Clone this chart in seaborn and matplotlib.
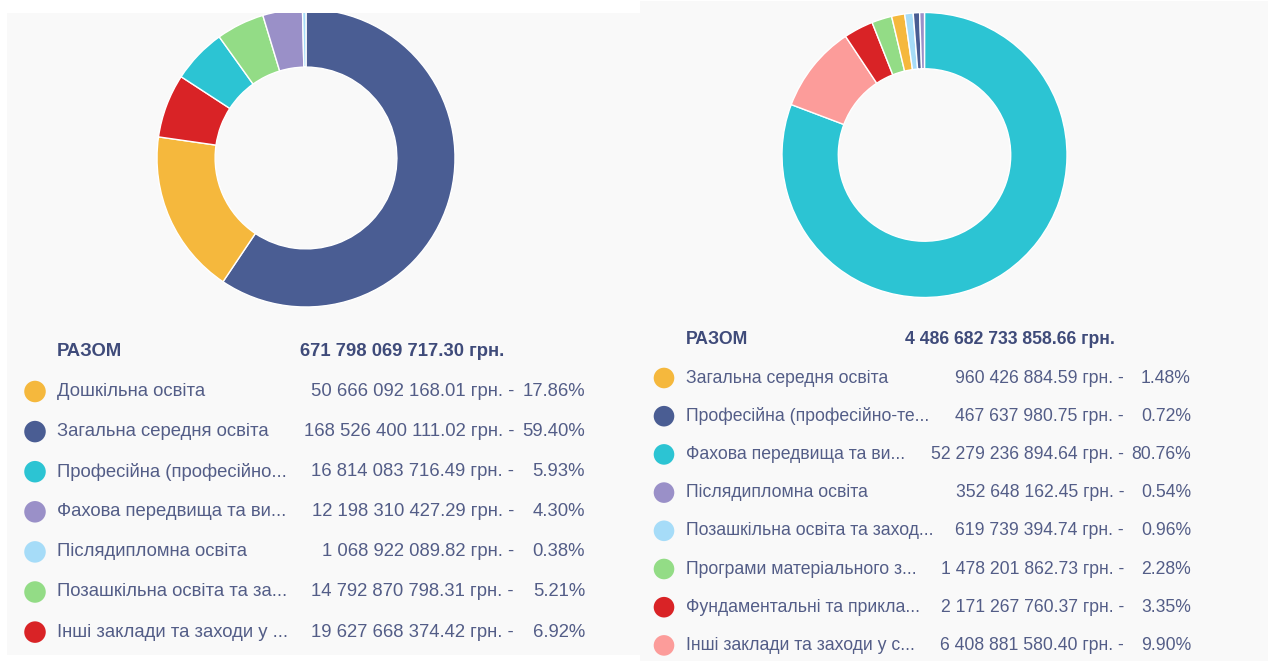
import pandas as pd
import matplotlib.pyplot as plt
import seaborn as sns
from matplotlib.patches import Rectangle


# Дані (ліва діаграма)
left_names = ['Дошкільна освіта', 'Загальна середня освіта', 'Професійна (професійно...',
              'Фахова передвища та ви...', 'Післядипломна освіта', 'Позашкільна освіта та за...',
              'Інші заклади та заходи у ...']
left_values = [50666092168.01, 168526400111.02, 16814083716.49, 12198310427.29,
               1068922089.82, 14792870798.31, 19627668374.42]
left_pct = [17.86, 59.40, 5.93, 4.30, 0.38, 5.21, 6.92]
left_colors = ['#f5b83d', '#4a5d93', '#2cc4d3', '#9a90c8', '#a6dcf8', '#93dc86', '#d92326']
left_total = '671 798 069 717.30 грн.'

# Дані (права діаграма)
right_names = ['Загальна середня освіта', 'Професійна (професійно-те...', 'Фахова передвища та ви...',
               'Післядипломна освіта', 'Позашкільна освіта та заход...', 'Програми матеріального з...',
               'Фундаментальні та прикла...', 'Інші заклади та заходи у с...']
right_values = [960426884.59, 467637980.75, 52279236894.64, 352648162.45,
                619739394.74, 1478201862.73, 2171267760.37, 6408881580.40]
right_pct = [1.48, 0.72, 80.76, 0.54, 0.96, 2.28, 3.35, 9.90]
right_colors = ['#f5b83d', '#4a5d93', '#2cc4d3', '#9a90c8', '#a6dcf8', '#93dc86', '#d92326', '#fc9c9a']
right_total = '4 486 682 733 858.66 грн.'

W, H = 1268, 661

sns.set_theme(style='white')
plt.rcParams['font.family'] = ['Liberation Sans', 'DejaVu Sans']

fig = plt.figure(figsize=(W / 100, H / 100), dpi=100)
fig.patch.set_facecolor('white')


def box(x0, y0, x1, y1):
    # піксельний прямокутник -> координати фігури
    return [x0 / W, 1 - y1 / H, (x1 - x0) / W, (y1 - y0) / H]


# фон панелей
for x0, y0, x1, y1 in [(7, 13, 640, 655), (640, 1, W, H)]:
    b = box(x0, y0, x1, y1)
    fig.add_artist(Rectangle((b[0], b[1]), b[2], b[3], transform=fig.transFigure,
                             facecolor='#f9f9f9', edgecolor='none', zorder=-1))


def donut(rect, values, colors, width):
    df = pd.DataFrame({'v': values, 'c': colors}).sort_values('v', ascending=False)
    ax = fig.add_axes(rect)
    ax.pie(df['v'], colors=df['c'], startangle=90, counterclock=False,
           wedgeprops=dict(width=width, edgecolor='white', linewidth=1))
    ax.set_xlim(-1, 1)
    ax.set_ylim(-1, 1)
    ax.set_aspect('equal')
    ax.axis('off')


donut(box(157, 9, 455, 307), left_values, left_colors, 0.39)
donut(box(782, 12.5, 1067, 297.5), right_values, right_colors, 0.395)

# біла смуга зверху лівої панелі
b = box(0, 0, 640, 13)
fig.add_artist(Rectangle((b[0], b[1]), b[2], b[3], transform=fig.transFigure,
                         facecolor='white', edgecolor='none', zorder=5))


def legend(x0, x1, y_row0, step, names, values, pct, colors, total,
           mx, tx, amount_x, pct_x, total_x, fs, ms):
    n = len(names)
    top = y_row0 - 1.5 * step
    bottom = y_row0 + (n - 0.5) * step
    ax = fig.add_axes(box(x0, top, x1, bottom))
    ax.set_xlim(x0, x1)
    ax.set_ylim(n - 0.5, -1.5)
    ax.axis('off')
    ax.patch.set_alpha(0)

    df = pd.DataFrame({'name': names, 'row': range(n), 'x': mx})
    sns.scatterplot(data=df, x='x', y='row', hue='name', palette=colors,
                    s=ms, linewidth=0, legend=False, ax=ax)

    head = '#3f4b7a'
    txt = '#535d87'
    ax.text(tx, -1, 'РАЗОМ', ha='left', va='center', fontsize=fs, fontweight='bold', color=head)
    ax.text(total_x, -1, total, ha='left', va='center', fontsize=fs, fontweight='bold', color=head)
    for i in range(n):
        amount = f'{values[i]:,.2f}'.replace(',', ' ') + ' грн. -'
        ax.text(tx, i, names[i], ha='left', va='center', fontsize=fs, color=txt)
        ax.text(amount_x, i, amount, ha='right', va='center', fontsize=fs, color=txt)
        ax.text(pct_x, i, f'{pct[i]:.2f}%', ha='right', va='center', fontsize=fs, color=txt)


legend(0, 640, 391.5, 40.1, left_names, left_values, left_pct, left_colors, left_total,
       35, 57, 514, 585, 300, 13.3, 240)
legend(640, W, 378, 38.2, right_names, right_values, right_pct, right_colors, right_total,
       664, 686, 1124, 1191, 905, 12.7, 220)

fig.savefig('out.png', dpi=100, facecolor='white')
